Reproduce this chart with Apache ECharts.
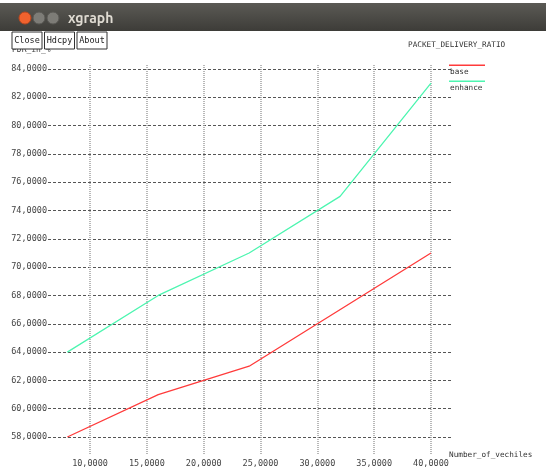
<!DOCTYPE html>
<html><head><meta charset="utf-8">
<script src="https://cdn.jsdelivr.net/npm/echarts@6/dist/echarts.min.js"></script>
<style>html,body{margin:0;padding:0;background:#fff}#c{width:546px;height:470px}</style>
</head><body><div id="c"></div>
<script>
const baseX = [8, 16, 24, 40];
const baseY = [58, 61, 63, 71];
const enhanceX = [8, 16, 24, 32, 40];
const enhanceY = [64, 68, 71, 75, 83];
const xTicks = [10, 15, 20, 25, 30, 35, 40];
const yTicks = [58, 60, 62, 64, 66, 68, 70, 72, 74, 76, 78, 80, 82, 84];
const seriesNames = ['base', 'enhance'];
const colors = ['#ff3b3b', '#4df5b0'];

const mono = 'DejaVu Sans Mono';
const fmt = v => v.toFixed(4).replace('.', ',');

const chart = echarts.init(document.getElementById('c'), null, {renderer: 'canvas'});
chart.setOption({
  animation: false,
  backgroundColor: '#fff',
  grid: {left: 48, right: 95, top: 65, bottom: 15},
  xAxis: {
    type: 'value', min: 6.3, max: 41.76,
    axisLine: {show: false}, axisTick: {show: false, customValues: xTicks},
    axisLabel: {customValues: xTicks, formatter: fmt, color: '#444', fontFamily: mono, fontSize: 8.5, margin: 4},
    splitLine: {show: true, lineStyle: {color: '#a0a0a0', width: 1.5, type: [1, 1]}},
    name: 'Number_of_vechiles', nameLocation: 'end', nameGap: -2,
    nameTextStyle: {color: '#333', fontFamily: mono, fontSize: 7.7, align: 'left', verticalAlign: 'middle', padding: [0, 0, 4, 0]}
  },
  yAxis: {
    type: 'value', min: 56.73, max: 84.28,
    axisLine: {show: false}, axisTick: {show: false, customValues: yTicks},
    axisLabel: {customValues: yTicks, formatter: fmt, color: '#444', fontFamily: mono, fontSize: 8.5, margin: 1},
    splitLine: {show: true, lineStyle: {color: '#555', width: 1, type: [3, 2]}}
  },
  series: [
    {name: seriesNames[0], type: 'line', data: baseX.map((x, i) => [x, baseY[i]]), showSymbol: false,
     lineStyle: {color: colors[0], width: 1.3}, itemStyle: {color: colors[0]}, z: 3},
    {name: seriesNames[1], type: 'line', data: enhanceX.map((x, i) => [x, enhanceY[i]]), showSymbol: false,
     lineStyle: {color: colors[1], width: 1.3}, itemStyle: {color: colors[1]}, z: 3}
  ],
  graphic: [
    {type: 'rect', shape: {x: 0, y: 3, width: 546, height: 28}, style: {fill: {type: 'linear', x: 0, y: 0, x2: 0, y2: 1, colorStops: [{offset: 0, color: '#5b5a55'}, {offset: 1, color: '#3d3c38'}]}}, z: 10},
    {type: 'circle', shape: {cx: 25, cy: 18, r: 6}, style: {fill: '#f0622e', stroke: '#b8471f'}, z: 11},
    {type: 'circle', shape: {cx: 39, cy: 18, r: 6}, style: {fill: '#7d7c77', stroke: '#5a5955'}, z: 11},
    {type: 'circle', shape: {cx: 53, cy: 18, r: 6}, style: {fill: '#7d7c77', stroke: '#5a5955'}, z: 11},
    {type: 'text', x: 68, y: 18, style: {text: 'xgraph', fill: '#dfdbd2', font: 'bold 14px Ubuntu, "DejaVu Sans", sans-serif', verticalAlign: 'middle'}, z: 11},
    {type: 'text', x: 12, y: 50, style: {text: 'PDR_in_%', fill: '#444', font: '8px "DejaVu Sans Mono"', verticalAlign: 'middle'}, z: 5},
    {type: 'rect', shape: {x: 12, y: 32, width: 30, height: 17}, style: {fill: '#fff', stroke: '#333', lineWidth: 1}, z: 10},
    {type: 'text', x: 27, y: 41, style: {text: 'Close', fill: '#222', font: '8.5px "DejaVu Sans Mono"', align: 'center', verticalAlign: 'middle'}, z: 11},
    {type: 'rect', shape: {x: 44.5, y: 32, width: 30, height: 17}, style: {fill: '#fff', stroke: '#333', lineWidth: 1}, z: 10},
    {type: 'text', x: 59.5, y: 41, style: {text: 'Hdcpy', fill: '#222', font: '8.5px "DejaVu Sans Mono"', align: 'center', verticalAlign: 'middle'}, z: 11},
    {type: 'rect', shape: {x: 77, y: 32, width: 30, height: 17}, style: {fill: '#fff', stroke: '#333', lineWidth: 1}, z: 10},
    {type: 'text', x: 92, y: 41, style: {text: 'About', fill: '#222', font: '8.5px "DejaVu Sans Mono"', align: 'center', verticalAlign: 'middle'}, z: 11},
    {type: 'text', x: 408, y: 45, style: {text: 'PACKET_DELIVERY_RATIO', fill: '#333', font: '7.7px "DejaVu Sans Mono"', verticalAlign: 'middle'}, z: 11},
    {type: 'rect', shape: {x: 449, y: 64.5, width: 36, height: 1.5}, style: {fill: colors[0]}, z: 11},
    {type: 'text', x: 450, y: 72, style: {text: seriesNames[0], fill: '#333', font: '7.7px "DejaVu Sans Mono"', verticalAlign: 'middle'}, z: 11},
    {type: 'rect', shape: {x: 449, y: 80.5, width: 36, height: 1.5}, style: {fill: colors[1]}, z: 11},
    {type: 'text', x: 450, y: 88, style: {text: seriesNames[1], fill: '#333', font: '7.7px "DejaVu Sans Mono"', verticalAlign: 'middle'}, z: 11}
  ]
});
</script></body></html>
